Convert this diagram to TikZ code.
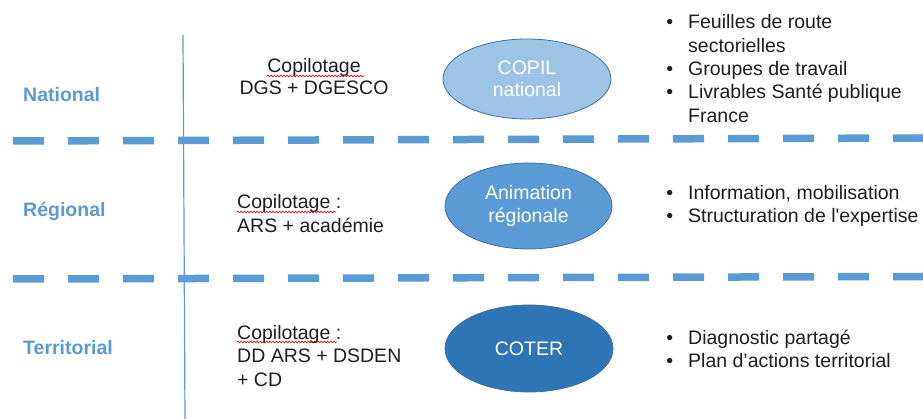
\documentclass[tikz,border=0pt]{standalone}
\usepackage{fontspec}
\setmainfont{Liberation Sans}
\newfontfamily\nolig{Liberation Sans}
\usetikzlibrary{shapes.geometric,decorations.pathmorphing}
\definecolor{lblue}{RGB}{91,155,213}
\definecolor{pblue}{RGB}{157,195,230}
\definecolor{dblue}{RGB}{46,117,182}
\definecolor{oblue}{RGB}{65,113,156}
\definecolor{tgray}{RGB}{30,30,30}
\tikzset{
  lvl/.style={font=\fontsize{19.5}{22}\selectfont\bfseries, text=lblue, anchor=base west, inner sep=0pt},
  txt/.style={font=\fontsize{19.5}{23.3}\selectfont, text=tgray, inner sep=0pt, align=left, anchor=base west},
  ell/.style={ellipse, draw=oblue, line width=0.8pt, inner sep=0pt, text=white, align=center,
    font=\fontsize{19.5}{22.5}\selectfont},
  sep/.style={draw=lblue, line width=7.5pt, dash pattern=on 31pt off 24pt},
  vline/.style={draw=lblue, line width=1.2pt},
  squig/.style={draw=red!85!black, line width=0.6pt, decorate, decoration={snake, segment length=3.2pt, amplitude=0.9pt}}
}
\newcommand\bul{\llap{\textbullet\hspace{15pt}}}
\begin{document}
\begin{tikzpicture}[x=1pt,y=-1pt]
\useasboundingbox[fill=white] (0,0) rectangle (923,419);
% vertical line
\coordinate (vtop) at (183,35);
\coordinate (vbot) at (185,419);
\draw[vline] (vtop) -- (vbot);
% dashed separators
\coordinate (s1a) at (13,141);
\coordinate (s1b) at (923,138);
\coordinate (s2a) at (13,279);
\coordinate (s2b) at (923,276.5);
\draw[sep] (s1a) -- (s1b);
\draw[sep] (s2a) -- (s2b);
% level labels
\node[lvl] (nat) at (23,102) {National};
\node[lvl] (reg) at (23,217) {Régional};
\node[lvl] (ter) at (23,355) {Territorial};
% copilotage (anchor = baseline of last line)
\node[txt, align=center, anchor=base, font=\fontsize{19.5}{22}\selectfont] (copN) at (314,95) {Copilotage\\DGS + DGESCO};
\node[txt] (copR) at (237,232.3) {Copilotage :\\ARS + académie};
\node[txt, font=\fontsize{19.5}{23.5}\selectfont] (copT) at (237,386) {Copilotage :\\DD ARS + DSDEN\\+ CD};
% spell-check squiggles
\draw[squig] (267,76) -- (364,76);
\draw[squig] (237,212) -- (336,212);
\draw[squig] (237,342) -- (337,342);
% ellipses
\node[ell, fill=pblue, minimum width=168pt, minimum height=80pt] (copil) at (527,79) {COPIL\\national};
\node[ell, fill=lblue, minimum width=167pt, minimum height=86pt] (anim) at (528.5,206) {Animation\\régionale};
\node[ell, fill=dblue, minimum width=168pt, minimum height=87pt] (coter) at (529,348.5) {COTER};
% bullets
\node[txt] (bN) at (688,122.2) {\bul Feuilles de route\\sectorielles\\\bul Groupes de travail\\\bul Livrables Santé publique\\France};
\node[txt, font=\fontsize{19.5}{22.5}\selectfont] (bR) at (688,222.5) {\bul Information, mobilisation\\\bul Structuration de l{\nolig '}expertise};
\node[txt, font=\fontsize{19.5}{23}\selectfont] (bT) at (688,367) {\bul Diagnostic partagé\\\bul Plan d’actions territorial};
\end{tikzpicture}
\end{document}
